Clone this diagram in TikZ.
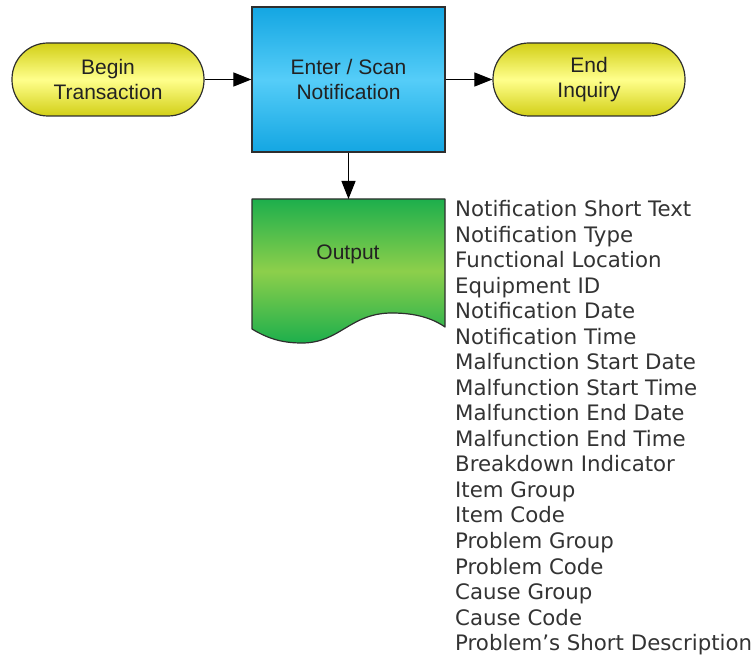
\documentclass[tikz,border=0pt]{standalone}
\usepackage{fontspec}
\setmainfont{Liberation Sans}
\newfontfamily\listfont{DejaVu Sans}
\usetikzlibrary{arrows.meta}
\definecolor{ylwedge}{HTML}{D2CF16}
\definecolor{ylwmid}{HTML}{FFFF8C}
\definecolor{bluedge}{HTML}{14A6E2}
\definecolor{blumid}{HTML}{55CDF8}
\definecolor{grnedge}{HTML}{1DAF4C}
\definecolor{grnmid}{HTML}{8DCF4B}
\definecolor{outline}{HTML}{2E2E2E}
\definecolor{lbltext}{HTML}{222222}
\definecolor{listtext}{HTML}{333333}
\begin{document}
\begin{tikzpicture}[x=1pt,y=-1pt,
  pill/.style={draw=outline, line width=1.2pt, rounded corners=36pt,
    minimum width=192pt, minimum height=73pt, inner sep=0pt,
    top color=ylwedge, bottom color=ylwedge, middle color=ylwmid,
    align=center, text=lbltext, font=\fontsize{21}{25}\selectfont},
  procbox/.style={draw=outline, line width=1.2pt,
    minimum width=193pt, minimum height=145pt, inner sep=0pt,
    top color=bluedge, bottom color=bluedge, middle color=blumid,
    align=center, text=lbltext, font=\fontsize{21}{25}\selectfont},
  lbl/.style={text=lbltext, font=\fontsize{21}{25}\selectfont, inner sep=0pt},
  listitem/.style={anchor=base west, inner sep=0pt, text=listtext,
    font=\listfont\fontsize{21.3}{25.5}\selectfont},
  flow/.style={draw=black, line width=1.1pt, -{Triangle[length=18pt,width=14pt]}}
]
\useasboundingbox (0,0) rectangle (756,660);
\node[pill] (begin) at (108,79.5) {Begin\\Transaction};
\node[procbox] (enter) at (348.5,79.5) {Enter / Scan\\Notification};
\node[pill] (end) at (589,79.5) {End\\Inquiry};
% output document shape
\shade[top color=grnedge, bottom color=grnedge, middle color=grnmid]
  (252,199) -- (445,199) -- (445,327)
  .. controls (432,318) and (415,313) .. (392,313)
  .. controls (350,313) and (340,343) .. (302,343)
  .. controls (285,343) and (270,340) .. (252,329) -- cycle;
\draw[draw=outline, line width=1.2pt, line join=round]
  (252,199) -- (445,199) -- (445,327)
  .. controls (432,318) and (415,313) .. (392,313)
  .. controls (350,313) and (340,343) .. (302,343)
  .. controls (285,343) and (270,340) .. (252,329) -- cycle;
\coordinate (outtop) at (348.5,199);
\node[lbl] (output) at (348,254) {Output};
% connectors
\draw[flow] (begin) -- (enter);
\draw[flow] (enter) -- (end);
\draw[flow] (enter.south) -- (outtop);
% list
\foreach [count=\i from 0] \t in {Notification Short Text, Notification Type,
  Functional Location, Equipment ID, Notification Date, Notification Time,
  Malfunction Start Date, Malfunction Start Time, Malfunction End Date,
  Malfunction End Time, Breakdown Indicator, Item Group, Item Code,
  Problem Group, Problem Code, Cause Group, Cause Code,
  Problem’s Short Description}
  \node[listitem] (item\i) at (455,217+25.5*\i) {\t};
\end{tikzpicture}
\end{document}
